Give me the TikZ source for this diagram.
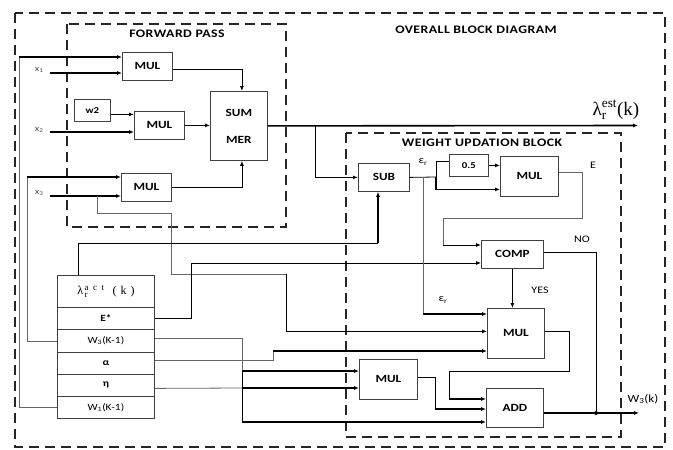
\documentclass[tikz,border=0pt]{standalone}
\usepackage{amsmath}
\usepackage{fontspec}
\setmainfont{Carlito}[FakeStretch=1.2]
\setsansfont{Carlito}[FakeStretch=1.2]
\newfontfamily\serif{Liberation Serif}
\usetikzlibrary{arrows.meta}

\begin{document}
\begin{tikzpicture}[x=1pt, y=-1pt, >={Latex[length=5pt,width=4pt]},
    blk/.style={draw=black!75, line width=0.8pt, anchor=north west, inner sep=0pt, font=\bfseries\fontsize{11}{11}\selectfont},
    stk/.style={blk, minimum width=97pt, font=\bfseries\fontsize{9.5}{9.5}\selectfont},
    gline/.style={draw=black!60, line width=0.8pt},
    kline/.style={draw=black, line width=0.8pt},
    bline/.style={draw=black, line width=1.6pt},
    dbox/.style={draw=black!85, line width=2.4pt, dash pattern=on 10pt off 6pt},
    lbl/.style={font=\fontsize{10}{10}\selectfont},
    xl/.style={font=\fontsize{8.5}{8.5}\selectfont, text=black!70},
    ttl/.style={font=\bfseries\fontsize{11.5}{11.5}\selectfont\addfontfeatures{LetterSpace=4}}]
  \useasboundingbox (0,0) rectangle (673,450);
  % dashed frames
  \draw[dbox] (15,13) rectangle (665,447);
  \draw[dbox] (67,24) rectangle (286,227);
  \draw[dbox] (346,133) rectangle (621,437);
  \node[ttl] (tover) at (476,30) {OVERALL BLOCK DIAGRAM};
  \node[ttl] (tfwd) at (177,34) {FORWARD PASS};
  \node[ttl] (twgt) at (482,143) {WEIGHT UPDATION BLOCK};

  % forward pass blocks
  \node[blk, minimum width=50pt, minimum height=28pt] (mulA) at (122,52) {MUL};
  \node[blk, minimum width=36pt, minimum height=22pt, font=\bfseries\fontsize{9}{9}\selectfont] (wtwo) at (74,99) {w2};
  \node[blk, minimum width=50pt, minimum height=28pt] (mulB) at (134,111) {MUL};
  \node[blk, minimum width=57pt, minimum height=69pt, align=center] (summer) at (210,91) {SUM\\[16pt]MER};
  \node[blk, minimum width=50pt, minimum height=28pt] (mulC) at (121,173) {MUL};

  % weight updation blocks
  \node[blk, minimum width=51pt, minimum height=28pt] (sub) at (358,163) {SUB};
  \node[blk, minimum width=39pt, minimum height=22pt, font=\bfseries\fontsize{9}{9}\selectfont] (half) at (449,154) {0.5};
  \node[blk, minimum width=58pt, minimum height=40pt] (mulD) at (500,156) {MUL};
  \node[blk, minimum width=62pt, minimum height=28pt] (comp) at (481,240) {COMP};
  \node[blk, minimum width=57pt, minimum height=50pt] (mulE) at (487,308) {MUL};
  \node[blk, minimum width=58pt, minimum height=40pt] (mulF) at (359,359) {MUL};
  \node[blk, minimum width=57pt, minimum height=39pt] (add) at (486,388) {ADD};

  % stored values
  \node[stk, minimum height=32pt, font=\serif\fontsize{12}{12}\selectfont] (lact) at (57,275) {λ$_{\text{\fontsize{9}{9}\selectfont\,r}}^{\text{\fontsize{9}{9}\selectfont\,a\hspace{4.5pt}c\hspace{4.5pt}t}}$\hspace{8pt}(\hspace{4pt}k\hspace{4pt})};
  \node[stk, minimum height=22pt] (estar) at (57,307) {E*};
  \node[stk, minimum height=23pt, font=\fontsize{9.5}{9.5}\selectfont] (wthree) at (57,329) {W\textsubscript{3}(K-1)};
  \node[stk, minimum height=22pt] (alpha) at (57,352) {α};
  \node[stk, minimum height=22pt] (eta) at (57,374) {η};
  \node[stk, minimum height=22pt, font=\fontsize{9.5}{9.5}\selectfont] (wone) at (57,396) {W\textsubscript{1}(K-1)};

  % inputs
  \coordinate (xa) at (50,73);
  \coordinate (xbb) at (50,132);
  \coordinate (xc) at (50,196);
  \node[xl, anchor=east] (x1) at (47,70) {x\textsubscript{1}};
  \node[xl, anchor=east] (x2) at (47,130) {x\textsubscript{2}};
  \node[xl, anchor=east] (x3) at (47,193) {x\textsubscript{3}};
  \coordinate (wa) at (19,57);
  \coordinate (ca) at (27,177);
  \draw[gline] (wone.west) -| (wa);
  \draw[bline,->] (wa) -- (wa -| mulA.west);
  \draw[bline,->] (xa) -- (xa -| mulA.west);
  \draw[bline,->] ([yshift=-4pt]wtwo.east) -- ([yshift=-4pt]wtwo.east -| mulB.west);
  \draw[bline,->] (xbb) -- (xbb -| mulB.west);
  \draw[gline] (wthree.west) -| (ca);
  \draw[bline,->] (ca) -- (ca -| mulC.west);
  \draw[bline,->] (xc) -- (xc -| mulC.west);
  \draw[kline,->] ([yshift=-3pt]mulA.east) -| ([xshift=3pt]summer.north);
  \draw[bline,->] (mulB.east) -- (mulB.east -| summer.west);
  \draw[kline,->] (mulC.east) -| ([xshift=3pt]summer.south);

  % x3 to weight update
  \coordinate (xd) at (97,196);
  \coordinate (fa) at (171,213);
  \coordinate (fb) at (286,274);
  \draw[gline] (xd) |- (fa) |- (fb);
  \draw[kline,->] (fb) |- ([yshift=2pt]mulE.west);

  % estimated output
  \coordinate (lo) at (638,125.5);
  \coordinate (sa) at (315,125.5);
  \draw[bline,->] (summer.east) -- (lo);
  \node[font=\serif\fontsize{19}{19}\selectfont, anchor=south, inner sep=1pt] (lest) at (616,121) {$\text{λ}_{\text{r}}^{\text{est}}\text{(k)}$};
  \draw[kline] (sa) -- (sa |- sub.west);
  \draw[bline,->] (sa |- sub.west) -- (sub.west);

  % stored values to the blocks
  \coordinate (la) at (378,243);
  \draw[kline] ([xshift=21pt]lact.north west) |- (la);
  \draw[bline,->] (la) -- (la |- sub.south);
  \coordinate (ea) at (191,263);
  \draw[kline] (estar.east) -| (ea);
  \draw[kline,->] (ea) -- (ea -| comp.west);
  \coordinate (wb) at (242,422);
  \coordinate (wc) at (242,371);
  \draw[gline] ([yshift=3pt]wthree.east) -| (wc);
  \draw[kline] (wc) -- (wb);
  \draw[bline,->] (wb) -- (wb -| add.west);
  \draw[bline,->] (wc) -- (wc -| mulF.west);
  \coordinate (aa) at (273,351);
  \draw[gline] ([yshift=3pt]alpha.east) -| (aa);
  \draw[bline,->] (aa) -- (aa -| mulE.west);
  \coordinate (eb) at (242,388);
  \draw[gline] ([yshift=-3pt]eta.east) -- (eb);
  \draw[bline,->] (eb) -- (eb -| mulF.west);

  % error path
  \coordinate (sb) at (436,177);
  \coordinate (sc) at (423,177);
  \coordinate (sd) at (423,314);
  \draw[kline] (sub.east) -- (sb);
  \draw[kline] (sb) |- ([yshift=4pt]half.west);
  \draw[kline,->] (half.east) -- (half.east -| mulD.west);
  \draw[bline,->] (sb) |- ([yshift=-13pt]mulD.west);
  \draw[gline] (sc) -- (sd);
  \draw[bline,->] (sd) -- (sd -| mulE.west);
  \coordinate (da) at (582,218);
  \coordinate (db) at (443,245);
  \draw[gline] ([yshift=4pt]mulD.east) -| (da) -| (db);
  \draw[kline,->] (db) -- (db -| comp.west);

  % decision and update
  \coordinate (ja) at (596,413);
  \coordinate (wo) at (639,413);
  \draw[kline] ([yshift=2pt]comp.east) -| (ja);
  \draw[bline,->] (comp.south) -- (comp.south |- mulE.north);
  \coordinate (ma) at (569,371);
  \coordinate (mb) at (449,399);
  \draw[kline] ([yshift=2pt]mulE.east) -| (ma) -| (mb);
  \draw[bline,->] (mb) -- (mb -| add.west);
  \coordinate (mc) at (435,409);
  \draw[kline] ([yshift=2pt]mulF.east) -| (mc);
  \draw[bline,->] (mc) -- (mc -| add.west);
  \draw[bline,->] (add.east |- wo) -- (wo);
  \fill (ja) circle (2pt);

  \node[lbl] (e1) at (423,162) {ε\textsubscript{r}};
  \node[lbl] (e2) at (443,300) {ε\textsubscript{r}};
  \node[lbl] (eE) at (593,165) {E};
  \node[lbl] (no) at (582,239) {NO};
  \node[lbl] (yes) at (540,290) {YES};
  \node[lbl, font=\fontsize{11}{11}\selectfont] (wk) at (643,399) {W\textsubscript{3}(k)};
\end{tikzpicture}
\end{document}
